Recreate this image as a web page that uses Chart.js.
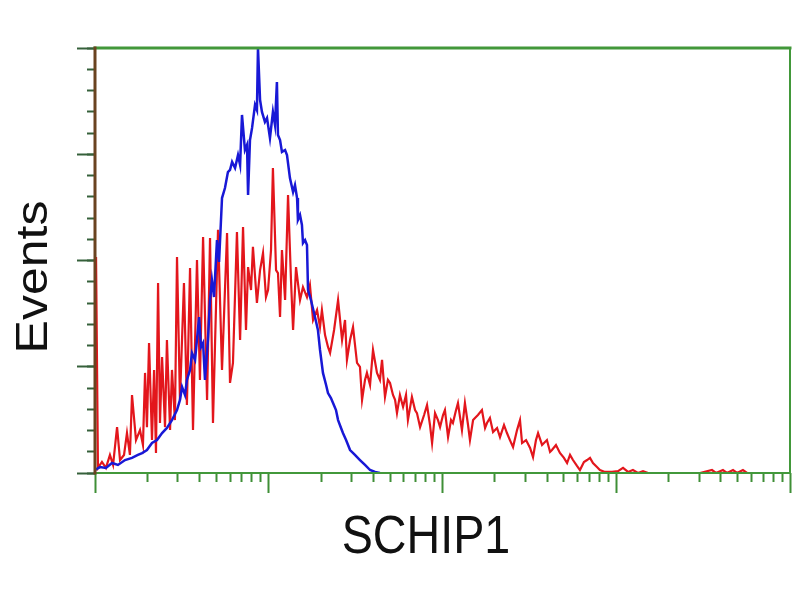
<!DOCTYPE html>
<html>
<head>
<meta charset="utf-8">
<script src="https://cdn.jsdelivr.net/npm/chart.js@4"></script>
<style>
body { margin: 0; background: #fff; }
#wrap { width: 800px; height: 600px; }
</style>
</head>
<body>
<div id="wrap"><canvas id="histChart" width="800" height="600"></canvas></div>
<script>
// x = fluorescence in decades (0 = 10^0 ... 4 = 10^4), y = events per channel
const redX = [0.006, 0.017, 0.040, 0.063, 0.086, 0.104, 0.127, 0.144, 0.167, 0.184,
    0.201, 0.213, 0.236, 0.259, 0.276, 0.288, 0.299, 0.311, 0.328, 0.340,
    0.351, 0.363, 0.374, 0.386, 0.403, 0.414, 0.432, 0.443, 0.460, 0.472,
    0.489, 0.512, 0.529, 0.547, 0.564, 0.587, 0.604, 0.622, 0.645, 0.662,
    0.679, 0.708, 0.731, 0.760, 0.777, 0.794, 0.817, 0.835, 0.852, 0.869,
    0.881, 0.898, 0.909, 0.932, 0.950, 0.967, 0.984, 0.996, 1.013, 1.024,
    1.042, 1.053, 1.065, 1.076, 1.094, 1.111, 1.128, 1.140, 1.157, 1.180,
    1.197, 1.220, 1.237, 1.255, 1.278, 1.295, 1.306, 1.324, 1.341, 1.353,
    1.376, 1.399, 1.422, 1.439, 1.450, 1.468, 1.485, 1.508, 1.525, 1.537,
    1.554, 1.565, 1.583, 1.600, 1.623, 1.640, 1.652, 1.669, 1.686, 1.698,
    1.715, 1.727, 1.738, 1.755, 1.773, 1.790, 1.801, 1.824, 1.842, 1.853,
    1.871, 1.894, 1.911, 1.928, 1.940, 1.957, 1.974, 1.986, 2.003, 2.014,
    2.032, 2.049, 2.060, 2.078, 2.089, 2.112, 2.129, 2.147, 2.158, 2.176,
    2.187, 2.204, 2.227, 2.245, 2.256, 2.273, 2.291, 2.314, 2.331, 2.354,
    2.371, 2.388, 2.406, 2.429, 2.446, 2.458, 2.481, 2.504, 2.521, 2.538,
    2.550, 2.573, 2.601, 2.619, 2.630, 2.653, 2.676, 2.699, 2.717, 2.734,
    2.751, 2.774, 2.791, 2.814, 2.832, 2.849, 2.866, 2.889, 2.906, 2.935,
    2.976, 3.010, 3.039, 3.068, 3.096, 3.125, 3.154, 3.183, 3.482, 3.551,
    3.574, 3.614, 3.637, 3.672, 3.695, 3.729, 3.753, 4.000];
const redY = [101.6, 2.4, 5.2, 2.4, 8.5, 3.8, 21.6, 6.1, 8.5, 18.8,
    8.5, 36.7, 15.5, 20.2, 13.2, 47.1, 21.6, 61.2, 15.5, 48.5,
    9.4, 89.4, 23.5, 54.6, 21.6, 62.6, 20.2, 48.5, 24.9, 101.6,
    34.4, 89.4, 32.0, 96.5, 20.2, 100.2, 43.8, 111.1, 34.4, 110.6,
    23.5, 114.4, 48.5, 112.9, 42.4, 51.8, 113.4, 62.6, 115.8, 67.3,
    96.9, 86.1, 106.4, 80.0, 95.5, 103.5, 82.8, 86.1, 104.9, 143.5,
    95.5, 94.1, 73.4, 104.9, 81.4, 130.8, 90.8, 67.3, 96.9, 81.4,
    87.5, 82.8, 88.5, 72.0, 76.7, 68.7, 76.7, 64.9, 59.3, 56.5,
    67.3, 81.4, 62.6, 72.0, 53.2, 62.6, 68.7, 51.8, 49.9, 34.4,
    43.8, 47.1, 41.4, 57.9, 47.1, 43.8, 53.2, 35.8, 43.8, 42.4,
    36.7, 34.4, 28.2, 36.7, 31.1, 36.7, 24.9, 35.8, 29.6, 28.2,
    21.6, 27.3, 32.0, 22.6, 14.1, 28.2, 24.9, 21.6, 27.3, 29.6,
    16.9, 24.9, 23.5, 29.6, 32.9, 20.2, 32.9, 22.6, 15.5, 24.9,
    25.9, 27.3, 29.6, 21.2, 23.5, 25.9, 19.3, 21.2, 16.9, 22.6,
    18.8, 15.5, 12.2, 20.2, 24.9, 14.1, 15.5, 11.8, 7.5, 15.5,
    18.8, 13.2, 15.5, 9.9, 10.8, 13.2, 9.4, 7.1, 4.7, 8.5,
    6.1, 3.3, 1.4, 5.2, 6.1, 7.1, 4.7, 2.8, 1.4, 0.5,
    0.5, 0.9, 2.4, 0.5, 1.4, 0, 0.9, 0, 0, 1.4,
    0, 1.4, 0, 1.4, 0, 1.4, 0, 0];

const blueX = [0.000, 0.029, 0.063, 0.098, 0.132, 0.173, 0.213, 0.247, 0.271, 0.299,
    0.328, 0.357, 0.386, 0.414, 0.443, 0.472, 0.489, 0.501, 0.518, 0.529,
    0.547, 0.558, 0.576, 0.599, 0.610, 0.622, 0.633, 0.650, 0.662, 0.673,
    0.685, 0.702, 0.714, 0.731, 0.748, 0.765, 0.777, 0.789, 0.806, 0.823,
    0.835, 0.846, 0.863, 0.875, 0.881, 0.892, 0.904, 0.921, 0.932, 0.938,
    0.950, 0.961, 0.978, 0.990, 1.007, 1.024, 1.036, 1.047, 1.053, 1.065,
    1.076, 1.094, 1.105, 1.122, 1.140, 1.151, 1.163, 1.168, 1.180, 1.191,
    1.197, 1.209, 1.220, 1.226, 1.243, 1.266, 1.283, 1.295, 1.312, 1.330,
    1.341, 1.358, 1.370, 1.387, 1.399, 1.416, 1.427, 1.445, 1.468, 1.496,
    1.525, 1.554, 1.583, 1.612, 1.640];
const blueY = [1.4, 2.8, 2.4, 4.7, 3.8, 6.1, 7.1, 8.5, 9.4, 10.8,
    14.1, 15.5, 18.8, 21.2, 24.9, 29.6, 34.4, 40.5, 36.7, 43.8,
    48.5, 56.5, 53.2, 73.4, 59.3, 61.2, 43.8, 62.6, 81.4, 90.8,
    82.8, 109.6, 99.3, 129.4, 134.1, 141.6, 142.6, 146.4, 143.5, 149.6,
    144.9, 168.5, 152.0, 154.4, 130.8, 156.7, 162.4, 173.2, 170.8, 200,
    175.5, 169.9, 165.2, 167.1, 157.6, 169.9, 163.8, 184.0, 159.1, 156.7,
    151.1, 152.0, 149.6, 138.8, 132.2, 135.5, 129.4, 119.1, 121.4, 116.7,
    108.2, 109.6, 107.3, 86.1, 81.4, 73.4, 67.3, 57.9, 47.1, 41.4,
    37.6, 35.3, 32.9, 29.6, 24.9, 21.2, 18.8, 15.5, 10.8, 8.5,
    6.1, 3.8, 1.4, 0.5, 0];

const xDecades = [0, 1, 2, 3, 4];
const yMax = 200;
const yMinorStep = 10;
const yMajorStep = 50;
const xTitle = "SCHIP1";
const yTitle = "Events";

const axisGreen = "#42983a";
const tickGreen = "#3f8f36";
const yTickColor = "#35603a";

function toPoints(xs, ys) {
    return xs.map((x, i) => ({ x: x, y: ys[i] }));
}

// minor log ticks: 2..9 inside every decade
const minorX = [];
xDecades.forEach((d) => {
    if (d < xDecades[xDecades.length - 1]) {
        for (let m = 2; m <= 9; m++) minorX.push(d + Math.log10(m));
    }
});

const frameAndTitles = {
    id: "frameAndTitles",
    afterDatasetsDraw(chart) {
        const a = chart.chartArea;
        const c = chart.ctx;
        c.save();
        c.lineCap = "square";
        c.strokeStyle = axisGreen;
        c.lineWidth = 3;
        c.beginPath();
        c.moveTo(a.left, a.top);
        c.lineTo(a.right, a.top);
        c.stroke();
        c.lineWidth = 2;
        c.beginPath();
        c.moveTo(a.right, a.top);
        c.lineTo(a.right, a.bottom);
        c.moveTo(a.left, a.bottom);
        c.lineTo(a.right, a.bottom);
        c.stroke();
        c.strokeStyle = "#6a4320";
        c.lineWidth = 3;
        c.beginPath();
        c.moveTo(a.left, a.top);
        c.lineTo(a.left, a.bottom);
        c.stroke();
        c.restore();
    },
    afterDraw(chart) {
        const c = chart.ctx;
        c.save();
        c.fillStyle = "#111";
        c.textAlign = "center";
        c.textBaseline = "alphabetic";
        c.font = '53px "Liberation Sans", Arial, sans-serif';
        c.translate(426, 553);
        c.scale(0.88, 1);
        c.fillText(xTitle, 0, 0);
        c.restore();

        c.save();
        c.fillStyle = "#111";
        c.textAlign = "center";
        c.textBaseline = "alphabetic";
        c.font = '50px "Liberation Sans", Arial, sans-serif';
        c.translate(47, 277);
        c.rotate(-Math.PI / 2);
        c.scale(1, 0.87);
        c.fillText(yTitle, 0, 0);
        c.restore();
    },
};

function tickAxis(position, len, color, extra) {
    return Object.assign({
        position: position,
        grid: {
            drawOnChartArea: false,
            drawTicks: true,
            tickLength: len,
            tickColor: color,
            tickWidth: 2,
        },
        border: { display: false },
        ticks: { display: false },
        afterFit: (s) => {
            if (position === "left") s.width = 0;
            else s.height = 0;
        },
    }, extra);
}

const ctx = document.getElementById("histChart").getContext("2d");
const histChart = new Chart(ctx, {
    type: "line",
    data: {
        datasets: [
            {
                label: "SCHIP1",
                data: toPoints(redX, redY),
                borderColor: "#e3161c",
                borderWidth: 2.2,
                pointRadius: 0,
                tension: 0,
                order: 2,
            },
            {
                label: "control",
                data: toPoints(blueX, blueY),
                borderColor: "#1818d6",
                borderWidth: 2.5,
                pointRadius: 0,
                tension: 0,
                order: 1,
            },
        ],
    },
    options: {
        responsive: false,
        animation: false,
        layout: { padding: { left: 95, right: 10, top: 48, bottom: 127 } },
        plugins: { legend: { display: false }, tooltip: { enabled: false } },
        scales: {
            x: tickAxis("bottom", 9, tickGreen, {
                type: "linear", min: 0, max: 4,
                afterBuildTicks: (s) => { s.ticks = minorX.map((v) => ({ value: v })); },
            }),
            xMajor: tickAxis("bottom", 20, tickGreen, {
                type: "linear", min: 0, max: 4,
                afterBuildTicks: (s) => { s.ticks = xDecades.map((v) => ({ value: v })); },
            }),
            y: tickAxis("left", 8, yTickColor, {
                type: "linear", min: 0, max: yMax,
                ticks: { display: false, stepSize: yMinorStep },
            }),
            yMajor: tickAxis("left", 18, yTickColor, {
                type: "linear", min: 0, max: yMax,
                ticks: { display: false, stepSize: yMajorStep },
            }),
        },
    },
    plugins: [frameAndTitles],
});
</script>
</body>
</html>
